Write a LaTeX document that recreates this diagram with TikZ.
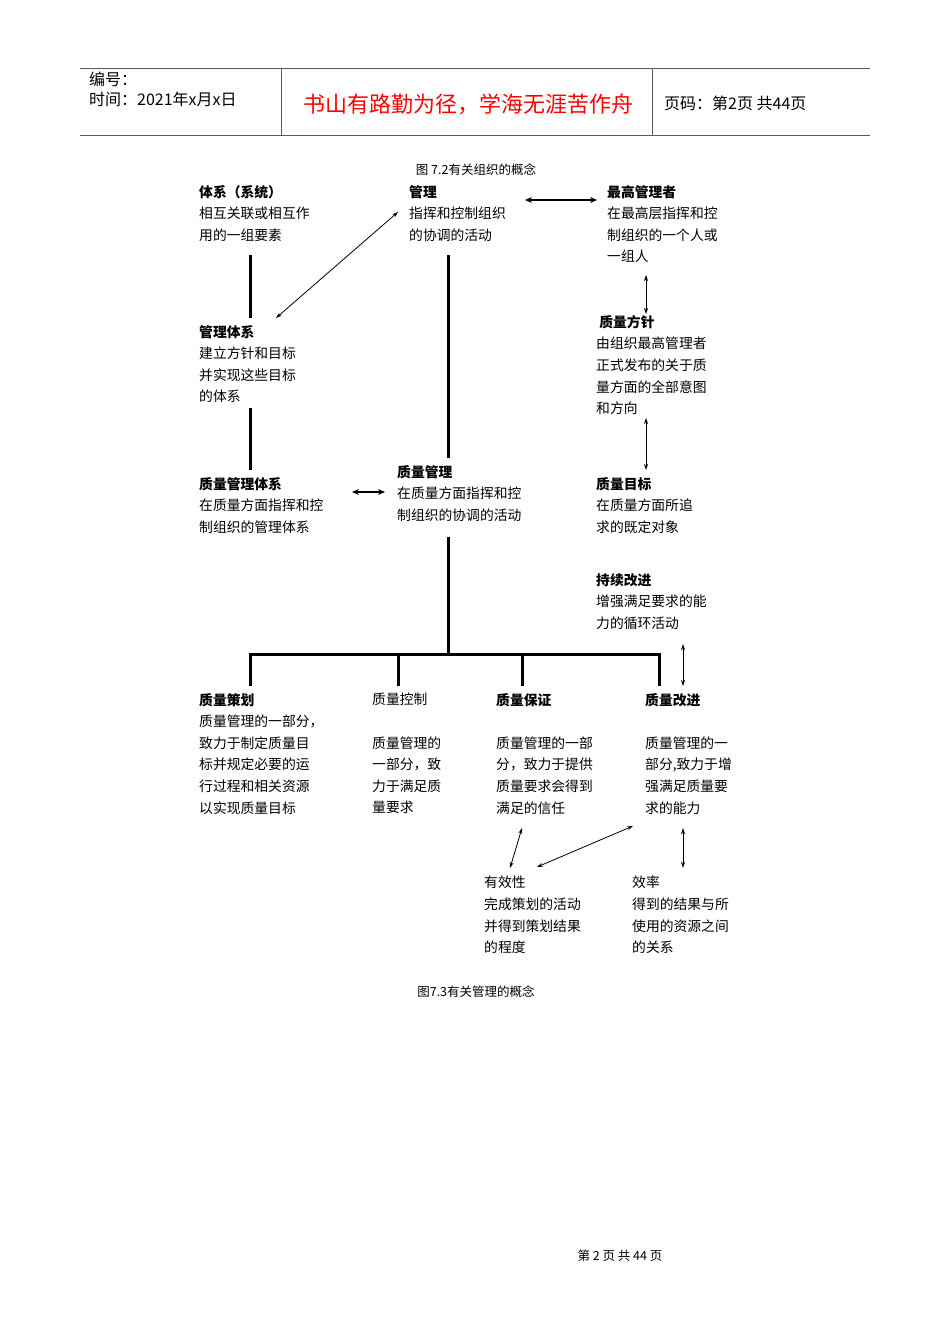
\documentclass[tikz,border=0pt]{standalone}
\usepackage{fontspec}
\setmainfont{Noto Sans CJK SC}
\usetikzlibrary{arrows.meta}
\begin{document}
\begin{tikzpicture}[x=1pt,y=-1pt,
  txt/.style={anchor=north west,inner sep=0pt,align=left,font=\fontsize{13.8}{21.6}\selectfont},
  thick3/.style={line width=3pt},
  dbl/.style={line width=0.8pt,{Stealth[length=6pt,width=4pt]}-{Stealth[length=6pt,width=4pt]}},
  dblb/.style={line width=2pt,{Stealth[length=7pt,width=6pt]}-{Stealth[length=7pt,width=6pt]}},
  captxt/.style={font=\fontsize{12.5}{14}\selectfont}]
\useasboundingbox (0,0) rectangle (950,1344);
% header
\draw[line width=1pt,gray!70!black] (80,68) -- (870,68) (80,135) -- (870,135) (281,68) -- (281,135) (652,68) -- (652,135);
\node[anchor=west,inner sep=0pt,font=\fontsize{16}{17}\selectfont] (h1) at (89,79) {编号：};
\node[anchor=west,inner sep=0pt,font=\fontsize{16}{17}\selectfont] (h2) at (89,99) {时间：2021年x月x日};
\node[font=\fontsize{22}{24}\selectfont,text=red] (h3) at (468,104) {书山有路勤为径，学海无涯苦作舟};
\node[anchor=west,inner sep=0pt,font=\fontsize{16}{17}\selectfont] (h4) at (664,103) {页码：第2页\ 共44页};
\node[captxt] (c1) at (476,170) {图 7.2有关组织的概念};
\node[captxt] (c2) at (476,992) {图7.3有关管理的概念};
\node[captxt] (c3) at (620,1256) {第\ 2\ 页\ 共\ 44\ 页};
% text blocks
\node[txt] (t1) at (199,185) {\textbf{体系（系统）}\\相互关联或相互作\\用的一组要素};
\node[txt] (t2) at (409,185) {\textbf{管理}\\指挥和控制组织\\的协调的活动};
\node[txt] (t3) at (607,185) {\textbf{最高管理者}\\在最高层指挥和控\\制组织的一个人或\\一组人};
\node[txt] (t4) at (199,325) {\textbf{管理体系}\\建立方针和目标\\并实现这些目标\\的体系};
\node[txt] (t5) at (596,315) {\textbf{\ 质量方针}\\由组织最高管理者\\正式发布的关于质\\量方面的全部意图\\和方向};
\node[txt] (t6) at (199,477) {\textbf{质量管理体系}\\在质量方面指挥和控\\制组织的管理体系};
\node[txt] (t7) at (397,465) {\textbf{质量管理}\\在质量方面指挥和控\\制组织的协调的活动};
\node[txt] (t8) at (596,477) {\textbf{质量目标}\\在质量方面所追\\求的既定对象};
\node[txt] (t9) at (596,573) {\textbf{持续改进}\\增强满足要求的能\\力的循环活动};
\node[txt] (t10) at (199,693) {\textbf{质量策划}\\质量管理的一部分，\\致力于制定质量目\\标并规定必要的运\\行过程和相关资源\\以实现质量目标};
\node[txt] (t11) at (372,693) {质量控制\\[21.6pt]质量管理的\\一部分，致\\力于满足质\\量要求};
\node[txt] (t12) at (496,693) {\textbf{质量保证}\\[21.6pt]质量管理的一部\\分，致力于提供\\质量要求会得到\\满足的信任};
\node[txt] (t13) at (645,693) {\textbf{质量改进}\\[21.6pt]质量管理的一\\部分,致力于增\\强满足质量要\\求的能力};
\node[txt] (t14) at (484,876) {有效性\\完成策划的活动\\并得到策划结果\\的程度};
\node[txt] (t15) at (632,876) {效率\\得到的结果与所\\使用的资源之间\\的关系};
% coordinates
\coordinate (a1) at (250,255); \coordinate (a2) at (250,318);
\coordinate (a3) at (250,408); \coordinate (a4) at (250,470);
\coordinate (m1) at (448,255); \coordinate (m1b) at (448,458);
\coordinate (m1c) at (448,537); \coordinate (m2) at (448,654);
\coordinate (bL) at (250,654); \coordinate (bR) at (659,654);
\coordinate (d1) at (398,654); \coordinate (d2) at (522,654);
% thick lines
\draw[thick3] (a1) -- (a2);
\draw[thick3] (a3) -- (a4);
\draw[thick3] (m1) -- (m1b);
\draw[thick3] (m1c) -- (m2);
\draw[thick3] (bL |- 0,686) -- (bL) -- (bR) -- (bR |- 0,686);
\draw[thick3] (d1) -- (d1 |- 0,686);
\draw[thick3] (d2) -- (d2 |- 0,686);
% arrows
\draw[dblb] (525,200) -- (597,200);
\draw[dbl] (398,212) -- (276,318);
\draw[dbl] (646,275) -- (646,314);
\draw[dbl] (646,418) -- (646,470);
\draw[dblb,line width=1.5pt] (352,492) -- (385,492);
\draw[dbl] (683,644) -- (683,686);
\draw[dbl] (522,828) -- (510,868);
\draw[dbl] (633,826) -- (537,867);
\draw[dbl] (683,828) -- (683,868);
\end{tikzpicture}
\end{document}
